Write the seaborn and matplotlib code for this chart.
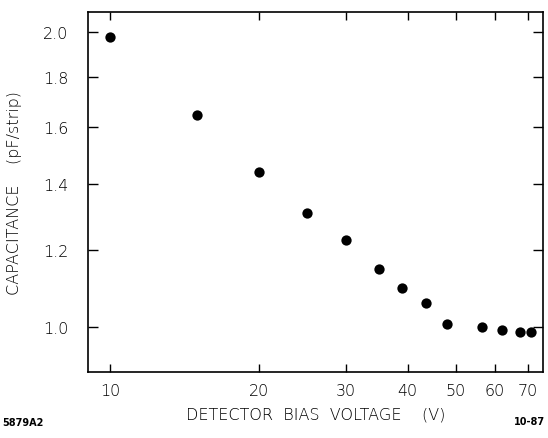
import matplotlib
matplotlib.use('Agg')
import matplotlib.pyplot as plt
import seaborn as sns
import pandas as pd
from matplotlib.ticker import FixedLocator, FixedFormatter, NullLocator

# values
voltage = [10, 15, 20, 25, 30, 35, 39, 43.5, 48, 56.5, 62, 67.5, 71]
capacitance = [1.98, 1.645, 1.44, 1.307, 1.227, 1.146, 1.096, 1.058, 1.007, 1.0, 0.993, 0.988, 0.988]
x_ticks = [10, 20, 30, 40, 50, 60, 70]
y_ticks = [1.0, 1.2, 1.4, 1.6, 1.8, 2.0]

df = pd.DataFrame({'V': voltage, 'C': capacitance})

sns.set_style('white')
plt.rcParams['font.family'] = ['DejaVu Sans']
plt.rcParams['text.color'] = 'black'
plt.rcParams['axes.labelcolor'] = 'black'

fig = plt.figure(figsize=(5.48, 4.39), dpi=100)
ax = fig.add_axes([0.1606, 0.150, 0.830, 0.820])

sns.scatterplot(data=df, x='V', y='C', ax=ax, color='black', s=55,
                edgecolor='black', linewidth=0, legend=False)

ax.set_xscale('log')
ax.set_yscale('log')
ax.set_xlim(9.03, 75)
ax.set_ylim(0.9, 2.097)

ax.xaxis.set_major_locator(FixedLocator(x_ticks))
ax.xaxis.set_major_formatter(FixedFormatter([str(t) for t in x_ticks]))
ax.xaxis.set_minor_locator(NullLocator())
ax.yaxis.set_major_locator(FixedLocator(y_ticks))
ax.yaxis.set_major_formatter(FixedFormatter(['%.1f' % t for t in y_ticks]))
ax.yaxis.set_minor_locator(NullLocator())

for s in ax.spines.values():
    s.set_color('black')
    s.set_linewidth(1.2)

ax.tick_params(axis='x', which='major', direction='in', length=6, width=1,
               top=True, bottom=True, labelsize=11.5, pad=8, colors='black')
ax.tick_params(axis='y', which='major', direction='in', length=7, width=1,
               left=True, right=True, labelsize=11.5, pad=14, colors='black')
for lab in ax.get_xticklabels() + ax.get_yticklabels():
    lab.set_fontweight('light')

ax.set_xlabel('DETECTOR  BIAS  VOLTAGE    (V)', fontsize=11.5, labelpad=6,
              fontweight='light', color='black')
ax.set_ylabel('CAPACITANCE    (pF/strip)', fontsize=11.5, labelpad=15,
              fontweight='light', color='black')

fig.text(0.005, 0.025, '5879A2', fontsize=7, fontweight='bold', ha='left', va='bottom')
fig.text(0.995, 0.028, '10-87', fontsize=7, fontweight='bold', ha='right', va='bottom')

fig.savefig('out.png', dpi=100)
